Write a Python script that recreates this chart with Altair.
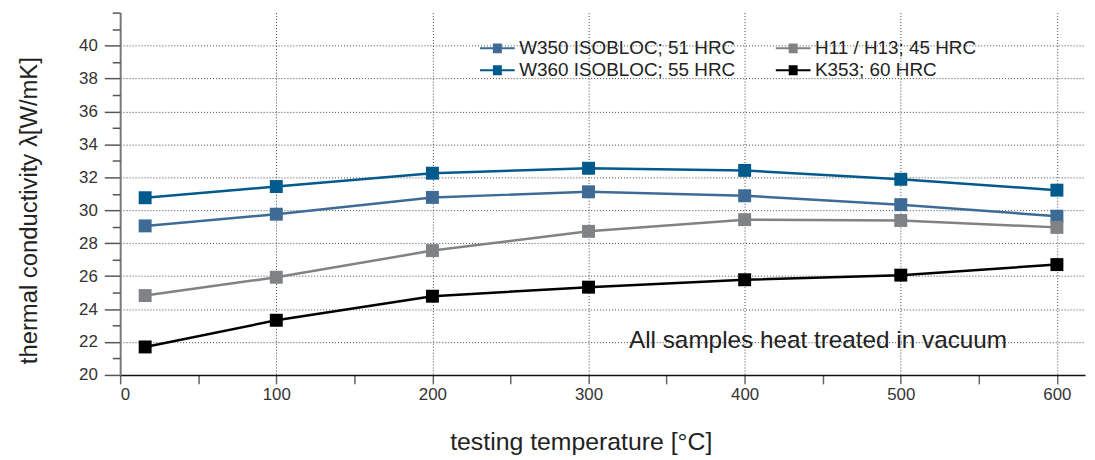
import altair as alt
import pandas as pd

temps = [16, 100, 200, 300, 400, 500, 600]
series_names = ["W350 ISOBLOC; 51 HRC", "W360 ISOBLOC; 55 HRC", "H11 / H13; 45 HRC", "K353; 60 HRC"]
w350 = [29.05, 29.76, 30.78, 31.12, 30.88, 30.34, 29.64]
w360 = [30.76, 31.44, 32.25, 32.55, 32.42, 31.88, 31.22]
h11 = [24.82, 25.93, 27.55, 28.72, 29.43, 29.38, 28.96]
k353 = [21.7, 23.32, 24.78, 25.33, 25.78, 26.06, 26.7]
colors = ["#3e6b95", "#005a8b", "#818285", "#000000"]

note_text = ["All samples heat treated in vacuum"]
note_x = [447]
note_y = [22.05]

x_ticks = list(range(0, 601, 50))
y_major = list(range(20, 41, 2))
y_minor = list(range(21, 42, 2)) + [42]

rows = []
for name, vals in zip(series_names, [w350, w360, h11, k353]):
    for t, v in zip(temps, vals):
        rows.append({"series": name, "temp": t, "k": v})
df = pd.DataFrame(rows)
note_df = pd.DataFrame({"text": note_text, "temp": note_x, "k": note_y})

FONT = "Liberation Sans"
xscale = alt.Scale(domain=[0, 618], nice=False, zero=False)
yscale = alt.Scale(domain=[20, 42], nice=False, zero=False)
cscale = alt.Scale(domain=series_names, range=colors)

x_axis = alt.Axis(
    values=x_ticks,
    labelExpr="datum.value % 100 == 0 ? datum.label : ''",
    title="testing temperature [°C]", titleFontSize=25,
    tickSize=9, labelPadding=3, titlePadding=27, titleX=464,
    grid=True,
    gridOpacity={"condition": {"test": "datum.value % 100 == 0 && datum.value > 0", "value": 1}, "value": 0},
    domainColor="#111", domainWidth=1.5, tickColor="#666", tickWidth=1.5,
    labelFontSize=17,
)
x_enc = alt.X("temp:Q", scale=xscale, axis=x_axis)

y_main = alt.Y(
    "k:Q", scale=yscale,
    axis=alt.Axis(
        orient="left", values=y_major, tickSize=16, labelPadding=7,
        title="thermal conductivity λ[W/mK]", titlePadding=37, titleY=199,
        grid=True,
        gridOpacity={"condition": {"test": "datum.value > 20", "value": 1}, "value": 0},
        domainColor="#777", domainWidth=2, tickColor="#555", tickWidth=1.5,
        labelFontSize=17,
    ),
)
y_minor_enc = alt.Y(
    "k:Q", scale=yscale,
    axis=alt.Axis(
        orient="left", values=y_minor, tickSize=8, labels=False, title="",
        grid=False, domain=False, tickColor="#555", tickWidth=1.5,
    ),
)

legend = alt.Legend(
    orient="none", legendX=369, legendY=25, columns=2, title=None,
    symbolType="M-1.75,0H1.75M-0.45,-0.4H0.45M-0.45,-0.2H0.45M-0.45,0H0.45M-0.45,0.2H0.45M-0.45,0.4H0.45",
    symbolSize=400, symbolStrokeWidth=2, symbolOpacity=1,
    labelFont=FONT, labelFontSize=19, labelColor="#222", labelLimit=400,
    labelOffset=11, columnPadding=36, rowPadding=1,
)

lines = alt.Chart(df).mark_line(strokeWidth=2.5).encode(
    x=x_enc,
    y=y_main,
    color=alt.Color("series:N", scale=cscale, legend=legend),
)

points = alt.Chart(df).mark_point(shape="square", filled=True, size=170, opacity=1).encode(
    x=x_enc,
    y=y_minor_enc,
    color=alt.Color("series:N", scale=cscale, legend=None),
)

note = alt.Chart(note_df).mark_text(font=FONT, fontSize=24.5, color="#222").encode(
    x=x_enc,
    y=alt.Y("k:Q", scale=yscale, axis=None),
    text="text:N",
)

chart = alt.layer(lines, points, note).resolve_axis(y="independent").properties(
    width=972, height=365,
    autosize=alt.AutoSizeParams(type="none"),
    padding={"left": 113, "top": 3, "right": 2, "bottom": 80},
).configure_view(stroke=None).configure_axis(
    labelFont=FONT, titleFont=FONT, labelColor="#333", titleColor="#222",
    titleFontSize=24, titleFontWeight="normal", gridColor="#444", gridDash=[1, 2], gridWidth=1,
)

chart.save("out.html", embed_options={"renderer": "svg", "actions": False})
